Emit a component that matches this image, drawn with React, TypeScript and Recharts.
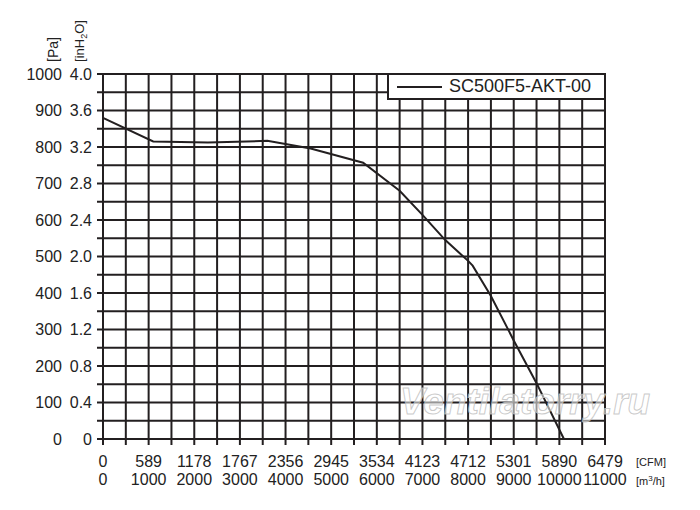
import { CartesianGrid, Legend, Line, LineChart, XAxis, YAxis } from 'recharts';

// airflow in m³/h against static pressure in Pa
const flowM3h = [0, 1100, 2300, 3600, 4550, 5700, 6500, 7000, 7500, 8000, 8100, 8500, 9000, 9500, 10100];
const pressurePa = [880, 815, 812, 817, 796, 757, 680, 614, 545, 488, 475, 392, 270, 153, 0];

const xTicks = [
  0, 500, 1000, 1500, 2000, 2500, 3000, 3500, 4000, 4500, 5000, 5500,
  6000, 6500, 7000, 7500, 8000, 8500, 9000, 9500, 10000, 10500, 11000,
];
const yTicks = [
  0, 50, 100, 150, 200, 250, 300, 350, 400, 450, 500,
  550, 600, 650, 700, 750, 800, 850, 900, 950, 1000,
];
const cfmLabels = ['0', '589', '1178', '1767', '2356', '2945', '3534', '4123', '4712', '5301', '5890', '6479'];
const m3hLabels = ['0', '1000', '2000', '3000', '4000', '5000', '6000', '7000', '8000', '9000', '10000', '11000'];
const paLabels = ['0', '100', '200', '300', '400', '500', '600', '700', '800', '900', '1000'];
const inH2OLabels = ['0', '0.4', '0.8', '1.2', '1.6', '2.0', '2.4', '2.8', '3.2', '3.6', '4.0'];

const seriesName = 'SC500F5-AKT-00';

const data = flowM3h.map((m3h, i) => ({ m3h, pa: pressurePa[i] }));

const INK = '#231f20';
const FONT = '"Liberation Sans", Arial, sans-serif';

const XTick = ({ x, y, payload }: any) => {
  const v = Number(payload.value);
  if (v % 1000 !== 0) return <g />;
  const i = v / 1000;
  return (
    <g fontFamily={FONT} fontSize={16} fill="#222">
      <text x={x} y={y} dy={20} textAnchor="middle">{cfmLabels[i]}</text>
      <text x={x} y={y} dy={38} textAnchor="middle">{m3hLabels[i]}</text>
    </g>
  );
};

const YTick = ({ x, y, payload }: any) => {
  const v = Number(payload.value);
  if (v % 100 !== 0) return <g />;
  const i = v / 100;
  return (
    <g fontFamily={FONT} fontSize={16} fill="#222">
      <text x={x - 33} y={y} dy={5.5} textAnchor="end">{paLabels[i]}</text>
      <text x={x - 3} y={y} dy={5.5} textAnchor="end">{inH2OLabels[i]}</text>
    </g>
  );
};

const LegendBox = () => (
  <div
    style={{
      boxSizing: 'border-box',
      width: 219,
      height: 27,
      border: `2px solid ${INK}`,
      background: '#fff',
      display: 'flex',
      alignItems: 'center',
      fontFamily: FONT,
      fontSize: 18,
      color: '#222',
    }}
  >
    <span style={{ display: 'inline-block', width: 45, height: 2, background: INK, marginLeft: 8, marginRight: 7 }} />
    <span>{seriesName}</span>
  </div>
);

export default function App() {
  return (
    <div style={{ position: 'absolute', left: 0, top: 0, width: 700, height: 510, background: '#fff' }}>
      <LineChart width={700} height={510} data={data} margin={{ top: 74, right: 95, bottom: 11, left: 0 }}>
        <CartesianGrid stroke={INK} strokeWidth={2} strokeOpacity={1} />
        <XAxis
          type="number"
          dataKey="m3h"
          domain={[0, 11000]}
          ticks={xTicks}
          interval={0}
          height={60}
          tickSize={6}
          tick={<XTick />}
          tickLine={{ stroke: INK, strokeWidth: 2 }}
          axisLine={{ stroke: INK, strokeWidth: 2 }}
        />
        <YAxis
          type="number"
          domain={[0, 1000]}
          ticks={yTicks}
          interval={0}
          width={103}
          tickSize={6}
          tick={<YTick />}
          tickLine={{ stroke: INK, strokeWidth: 2 }}
          axisLine={{ stroke: INK, strokeWidth: 2 }}
        />
        <Legend
          layout="horizontal"
          verticalAlign="middle"
          align="center"
          content={() => <LegendBox />}
          wrapperStyle={{ top: 73, left: 387, width: 219, height: 27 }}
        />
        <Line
          type="linear"
          dataKey="pa"
          name={seriesName}
          stroke={INK}
          strokeWidth={2}
          dot={false}
          activeDot={false}
          isAnimationActive={false}
        />
      </LineChart>
      <svg
        width={700}
        height={510}
        style={{ position: 'absolute', left: 0, top: 0, pointerEvents: 'none' }}
        fontFamily={FONT}
      >
        <text x={53} y={49.5} transform="rotate(-90 53 49.5)" textAnchor="middle" dy={5} fontSize={14} fill="#222">
          [Pa]
        </text>
        <text x={79} y={41} transform="rotate(-90 79 41)" textAnchor="middle" dy={5} fontSize={13} fill="#222">
          [inH<tspan fontSize={9} dy={3}>2</tspan><tspan dy={-3}>O]</tspan>
        </text>
        <text x={636} y={466} fontSize={11} fill="#222">[CFM]</text>
        <text x={636} y={485} fontSize={11} fill="#222">
          [m<tspan fontSize={8} dy={-4}>3</tspan><tspan dy={4}>/h]</tspan>
        </text>
        <text
          x={400}
          y={414}
          fontSize={37}
          fontStyle="italic"
          fontWeight="bold"
          fill="#fff"
          fillOpacity={0.55}
          stroke="#bdbdbd"
          strokeWidth={1}
          strokeOpacity={0.8}
        >
          Ventilatorry.ru
        </text>
      </svg>
    </div>
  );
}
